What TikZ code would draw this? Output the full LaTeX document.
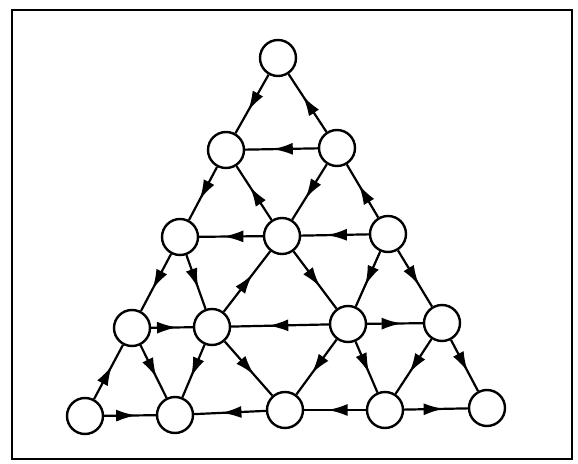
\documentclass[tikz,border=0pt]{standalone}
\usepackage{tikz}
\usetikzlibrary{arrows.meta,decorations.markings}

\tikzset{
  site/.style={circle,draw,line width=2.4pt,minimum size=36pt,inner sep=0pt,fill=white},
  flow/.style={line width=2.2pt,postaction={decorate},
    decoration={markings,mark=at position 0.62 with {\arrow{Latex[length=20pt,width=12pt]}}}}
}

\begin{document}
\begin{tikzpicture}[x=1pt,y=1pt]
    \useasboundingbox (0,0) rectangle (578,463);
    \draw[line width=2.2pt] (12,4) rectangle (572,453);
    % sites of the triangle, row by row
    \foreach \name/\x/\y in {a/278/405,
        b1/226/313,b2/337/315,
        c1/180/226,c2/282/227,c3/388/229,
        d1/132/135,d2/212/136,d3/348/139,d4/442/140,
        e1/85/47,e2/175/48,e3/285/53,e4/385/53,e5/487/55} {
      \node[site] (\name) at (\x,\y) {};
    }
    % directed links
    \foreach \from/\to in {a/b1,b2/a,b2/b1,
        b1/c1,c2/b1,b2/c2,c3/b2,c2/c1,c3/c2,
        c1/d1,c1/d2,d2/c2,c2/d3,c3/d3,c3/d4,d1/d2,d3/d2,d3/d4,
        e1/d1,d1/e2,d2/e2,d2/e3,d3/e3,d3/e4,d4/e4,d4/e5,
        e1/e2,e3/e2,e4/e3,e4/e5} {
      \draw[flow] (\from) -- (\to);
    }
  \end{tikzpicture}
\end{document}
